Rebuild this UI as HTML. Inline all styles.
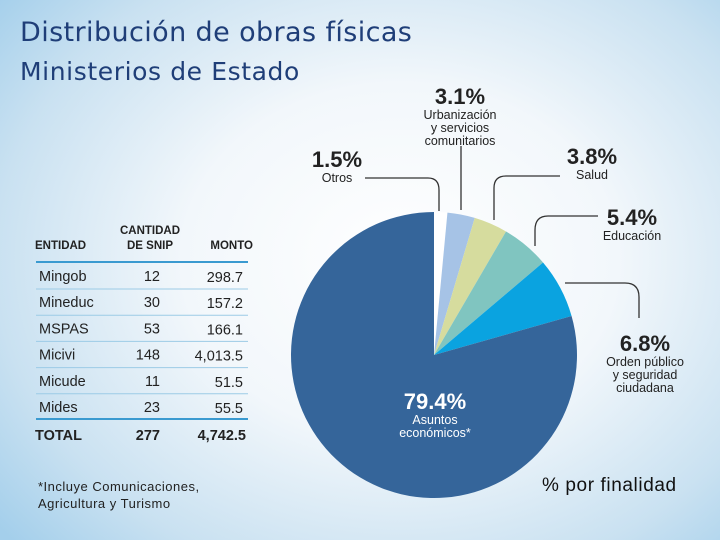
<!DOCTYPE html>
<html><head><meta charset="utf-8"><style>
body{margin:0}
#root{position:relative;width:720px;height:540px;overflow:hidden;font-family:"Liberation Sans",sans-serif;
background:radial-gradient(ellipse 520px 420px at 400px 260px,#ffffff 0%,#f2f7fb 42%,#c9e1f1 78%,#a4cfeb 100%);}
.t{position:absolute;white-space:nowrap}
</style></head><body>
<div id="root">
<div class="t" style="left:20px;top:17px;font-size:27px;letter-spacing:0.4px;color:#1f3e78;font-family:'DejaVu Sans',sans-serif">Distribución de obras físicas</div>
<div class="t" style="left:20px;top:57px;font-size:25px;letter-spacing:0.6px;color:#1f3e78;font-family:'DejaVu Sans',sans-serif">Ministerios de Estado</div>
<svg id="tbl" width="720" height="540" style="position:absolute;left:0;top:0"></svg>
<svg id="pie" width="720" height="540" style="position:absolute;left:0;top:0"></svg>
<div class="t" style="left:38px;top:478px;font-size:13px;letter-spacing:0.5px;color:#222;line-height:17px">*Incluye Comunicaciones,<br>Agricultura y Turismo</div>
<div class="t" style="left:542px;top:475px;font-size:19px;letter-spacing:0.6px;color:#111">% por finalidad</div>
</div>
<script>
const NS="http://www.w3.org/2000/svg";
const entities=["Mingob","Mineduc","MSPAS","Micivi","Micude","Mides"];
const snip=["12","30","53","148","11","23"];
const monto=["298.7","157.2","166.1","4,013.5","51.5","55.5"];
const sliceLabels=["Otros","Urbanización y servicios comunitarios","Salud","Educación","Orden público y seguridad ciudadana","Asuntos económicos*"];
const sliceValues=[1.5,3.1,3.8,5.4,6.8,79.4];
const sliceColors=["#ffffff","#a6c3e6","#d6dc9e","#80c5c0","#0aa3e0","#35659a"];
function mk(tag,attrs,parent,text){const e=document.createElementNS(NS,tag);for(const k in attrs)e.setAttribute(k,attrs[k]);if(text!==undefined)e.textContent=text;parent.appendChild(e);return e;}
const tbl=document.getElementById('tbl');
let h;
h=mk('text',{x:35,y:249,'font-size':11.5,'font-weight':'bold',fill:'#222'},tbl,'ENTIDAD');

h=mk('text',{x:150,y:234,'font-size':11.5,'font-weight':'bold',fill:'#222','text-anchor':'middle'},tbl,'CANTIDAD');

h=mk('text',{x:150,y:249,'font-size':11.5,'font-weight':'bold',fill:'#222','text-anchor':'middle'},tbl,'DE SNIP');

h=mk('text',{x:253,y:249,'font-size':11.5,'font-weight':'bold',fill:'#222','text-anchor':'end'},tbl,'MONTO');

mk('line',{x1:36,x2:248,y1:262,y2:262,stroke:'#3a9ad0','stroke-width':2},tbl);
entities.forEach((e,i)=>{const y=281+i*26.2;
 let t=mk('text',{x:39,y:y,'font-size':14.5,fill:'#222'},tbl,e);
 
 t=mk('text',{x:160,y:y,'font-size':14.5,fill:'#222','text-anchor':'end'},tbl,snip[i]);
 
 t=mk('text',{x:243,y:y+1,'font-size':14.5,fill:'#222','text-anchor':'end'},tbl,monto[i]);
 
 if(i<entities.length-1)mk('line',{x1:36,x2:248,y1:y+8,y2:y+8,stroke:'#9ccbe6','stroke-width':1},tbl);
});
mk('line',{x1:36,x2:248,y1:419,y2:419,stroke:'#3a9ad0','stroke-width':2},tbl);
h=mk('text',{x:35,y:440,'font-size':14.5,'font-weight':'bold',fill:'#222'},tbl,'TOTAL');

h=mk('text',{x:160,y:440,'font-size':14.5,'font-weight':'bold',fill:'#222','text-anchor':'end'},tbl,'277');

h=mk('text',{x:246,y:440,'font-size':14.5,'font-weight':'bold',fill:'#222','text-anchor':'end'},tbl,'4,742.5');

const pie=document.getElementById('pie');
const cx=434,cy=355,r=143;
const total=sliceValues.reduce((a,b)=>a+b,0);
let acc=0;
const pt=(a,rr)=>[cx+rr*Math.sin(a),cy-rr*Math.cos(a)];
sliceValues.forEach((v,i)=>{const a0=acc/total*2*Math.PI;acc+=v;const a1=acc/total*2*Math.PI;
 const p0=pt(a0,r),p1=pt(a1,r);const large=(a1-a0)>Math.PI?1:0;
 const p=mk('path',{d:`M${cx},${cy}L${p0[0]},${p0[1]}A${r},${r} 0 ${large} 1 ${p1[0]},${p1[1]}Z`,fill:sliceColors[i]},pie);
 
 
});
const L=[
 'M365,178 L428,178 Q439,178 439,190 L439,211',
 'M461,146 L461,210',
 'M560,176 L506,176 Q494,176 494,188 L494,220',
 'M598,216 L548,216 Q535,216 535,230 L535,246',
 'M565,283 L625,283 Q639,283 639,297 L639,318'];
L.forEach(d=>{const l=mk('path',{d:d,fill:'none',stroke:'#333','stroke-width':1.3},pie);
 });
function lab(x,y,pct,lines,anchor,color,name){
 const g=mk('g',{},pie);
 mk('text',{x:x,y:y,'font-size':22,'font-weight':'bold',fill:color,'text-anchor':anchor},g,pct);
 lines.forEach((s,k)=>mk('text',{x:x,y:y+15+k*13,'font-size':12.5,fill:color,'text-anchor':anchor},g,s));
}
lab(337,167,sliceValues[0].toFixed(1)+'%',['Otros'],'middle','#222','label-otros');
lab(460,104,sliceValues[1].toFixed(1)+'%',['Urbanización','y servicios','comunitarios'],'middle','#222','label-urbanizacion');
lab(592,164,sliceValues[2].toFixed(1)+'%',['Salud'],'middle','#222','label-salud');
lab(632,225,sliceValues[3].toFixed(1)+'%',['Educación'],'middle','#222','label-educacion');
lab(645,351,sliceValues[4].toFixed(1)+'%',['Orden público','y seguridad','ciudadana'],'middle','#222','label-orden');
lab(435,409,sliceValues[5].toFixed(1)+'%',['Asuntos','económicos*'],'middle','#fff','label-asuntos');
</script>
</body></html>
